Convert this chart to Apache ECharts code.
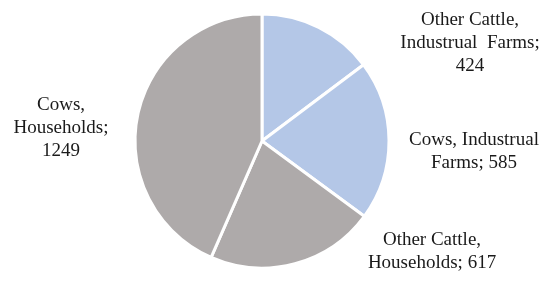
<!DOCTYPE html>
<html><head><meta charset="utf-8">
<script src="https://cdn.jsdelivr.net/npm/echarts@6/dist/echarts.min.js"></script>
<style>html,body{margin:0;padding:0;background:#fff}#c{width:545px;height:289px}</style>
</head><body><div id="c"></div>
<script>
const categories = ['Other Cattle,\nIndustrual  Farms;', 'Cows, Industrual\nFarms;', 'Other Cattle,\nHouseholds;', 'Cows,\nHouseholds;'];
const values = [424, 585, 617, 1249];
const colors = ['#b4c7e7', '#b4c7e7', '#aeaaaa', '#aeaaaa'];
const labelPos = [[470, 43, 'center'], [474, 152, 'center'], [432, 252, 'center'], [61, 128, 'center']];
const chart = echarts.init(document.getElementById('c'));
chart.setOption({
  animation: false,
  series: [{
    type: 'pie',
    center: [262, 141],
    radius: 127,
    startAngle: 90,
    clockwise: true,
    data: categories.map((n, i) => ({ name: n, value: values[i], itemStyle: { color: colors[i] } })),
    itemStyle: { borderColor: '#fff', borderWidth: 3 },
    label: {
      show: true,
      position: 'outside',
      fontFamily: 'Liberation Serif',
      fontSize: 19,
      lineHeight: 23,
      color: '#1a1a1a',
      align: 'center',
      overflow: 'none',
      formatter: p => {
        const i = p.dataIndex;
        if (i === 0 || i === 3) return p.name + '\n' + p.value;
        return p.name + ' ' + p.value;
      }
    },
    labelLine: { show: false },
    labelLayout: p => ({ x: labelPos[p.dataIndex][0], y: labelPos[p.dataIndex][1], align: 'center', verticalAlign: 'middle' })
  }]
});
</script></body></html>
